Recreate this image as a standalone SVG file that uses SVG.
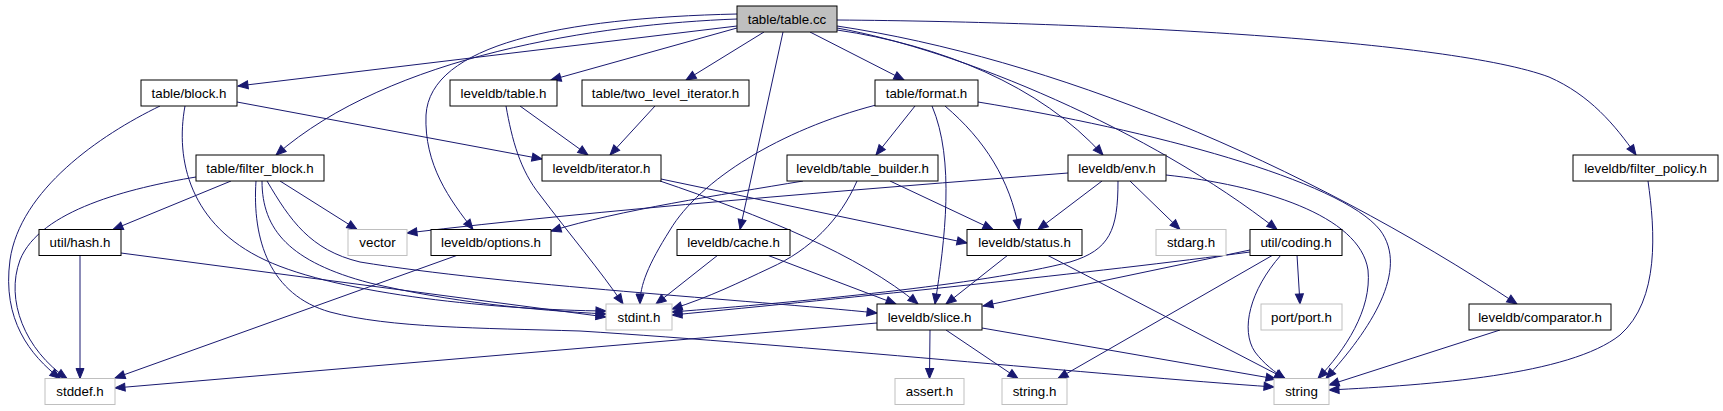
<svg xmlns="http://www.w3.org/2000/svg" width="1723" height="411" viewBox="0 0 1723 411">
<style>
.n rect{fill:#ffffff;stroke:#000000;stroke-width:1}
.g rect{fill:#ffffff;stroke:#bfbfbf;stroke-width:1}
.m rect{fill:#bfbfbf;stroke:#000000;stroke-width:1}
text{font-family:"Liberation Sans",Arial,Helvetica,sans-serif;font-size:13.33px;fill:#000000;text-anchor:middle}
#edges path{fill:none;stroke:#191970;stroke-width:1;marker-end:url(#a)}
</style>
<defs>
<marker id="a" markerUnits="userSpaceOnUse" viewBox="0 0 10 8" markerWidth="10" markerHeight="8" refX="10" refY="4" orient="auto" overflow="visible">
<path d="M0,0 L10,4 L0,8 z" fill="#191970" stroke="#191970" stroke-width="1"/>
</marker>
</defs>
<rect width="1723" height="411" fill="#ffffff"/>
<g id="edges">
<path d="M737,26 L238,86"/>
<path d="M737,19 C600,24 390,55 276,155"/>
<path d="M737,14 C560,18 430,45 426,115 C424,165 450,200 473,229.5"/>
<path d="M737,28 L551,80"/>
<path d="M764,32 L686,80"/>
<path d="M783,32 L740,229.5"/>
<path d="M810,32 L904,80"/>
<path d="M837,30 C940,45 1040,85 1103,155"/>
<path d="M837,28 C960,50 1150,130 1277,229.5"/>
<path d="M837,26 C1050,58 1300,160 1517,304"/>
<path d="M837,20 C1100,22 1450,40 1549,77 C1590,95 1615,125 1636,155"/>
<path d="M160,106 C100,135 20,190 10,260 C2,320 30,355 60,378.5"/>
<path d="M185,106 C175,160 190,225 265,260 C340,295 500,310 606,311"/>
<path d="M237,102 L542,159"/>
<path d="M520,106 L588,155"/>
<path d="M506,106 C512,140 520,170 540,195 C570,235 600,270 623,304"/>
<path d="M655,106 L610,155"/>
<path d="M661,179 L967,243"/>
<path d="M660,181 C760,215 860,255 918,304"/>
<path d="M915,106 L876,155"/>
<path d="M876,105 C780,130 700,180 670,230 C648,265 640,285 640,304"/>
<path d="M932,106 C955,160 945,240 935,304"/>
<path d="M945,106 C985,140 1010,180 1019,229.5"/>
<path d="M978,102 C1150,130 1340,180 1380,230 C1410,270 1370,330 1326,378.5"/>
<path d="M803,181 C720,195 620,210 551,231"/>
<path d="M857,181 C840,220 810,250 770,268 C740,282 710,297 672,309"/>
<path d="M890,181 L993,229.5"/>
<path d="M1068,173 C850,190 600,210 407,233"/>
<path d="M1102,181 L1038,229.5"/>
<path d="M1130,181 L1180,229.5"/>
<path d="M1118,181 C1118,230 1110,250 1070,262 C980,285 800,302 672,312"/>
<path d="M1166,175 C1260,185 1360,215 1368,270 C1372,310 1345,350 1318,378.5"/>
<path d="M1648,181 C1655,230 1660,300 1620,335 C1570,375 1430,385 1329,390"/>
<path d="M1500,330 L1329,385"/>
<path d="M1008,255 L946,304"/>
<path d="M1047,255 L1285,378.5"/>
<path d="M718,255 L656,304"/>
<path d="M767,255 L896,304"/>
<path d="M196,177 C130,188 40,210 20,260 C5,300 25,350 67,378.5"/>
<path d="M231,181 L113,229.5"/>
<path d="M280,181 L357,229.5"/>
<path d="M262,181 C262,230 290,262 370,283 C450,302 530,310 606,314"/>
<path d="M267,181 C290,220 310,250 360,262 C500,285 750,300 877,313"/>
<path d="M256,181 C252,240 270,295 330,312 C390,328 480,328 580,331 C800,345 1100,375 1274,387"/>
<path d="M80,255 L80,378.5"/>
<path d="M121,253 L606,317"/>
<path d="M458,255 L115,378"/>
<path d="M930,330 L929.5,378.5"/>
<path d="M946,330 L1018,378.5"/>
<path d="M982,328 L1276,379"/>
<path d="M877,323 L115,388"/>
<path d="M1297,255 L1300,304"/>
<path d="M1273,255 L1058,378.5"/>
<path d="M1281,255 C1250,290 1240,330 1255,352 C1264,364 1275,372 1285,379"/>
<path d="M1250,252 C1100,272 850,298 672,315"/>
<path d="M1250,250 L983,306"/>
</g>
<g id="node-table-cc" class="m"><rect x="737" y="6" width="100" height="26"/><text x="787" y="23.5">table/table.cc</text></g>
<g id="node-table-block" class="n"><rect x="141" y="80" width="96" height="26"/><text x="189" y="97.5">table/block.h</text></g>
<g id="node-leveldb-table" class="n"><rect x="450" y="80" width="107" height="26"/><text x="503.5" y="97.5">leveldb/table.h</text></g>
<g id="node-two-level" class="n"><rect x="582" y="80" width="167" height="26"/><text x="665.5" y="97.5">table/two_level_iterator.h</text></g>
<g id="node-format" class="n"><rect x="875" y="80" width="103" height="26"/><text x="926.5" y="97.5">table/format.h</text></g>
<g id="node-filter-block" class="n"><rect x="196" y="155" width="128" height="26"/><text x="260" y="172.5">table/filter_block.h</text></g>
<g id="node-iterator" class="n"><rect x="542" y="155" width="119" height="26"/><text x="601.5" y="172.5">leveldb/iterator.h</text></g>
<g id="node-table-builder" class="n"><rect x="787" y="155" width="151" height="26"/><text x="862.5" y="172.5">leveldb/table_builder.h</text></g>
<g id="node-env" class="n"><rect x="1068" y="155" width="98" height="26"/><text x="1117" y="172.5">leveldb/env.h</text></g>
<g id="node-filter-policy" class="n"><rect x="1573" y="155" width="145" height="26"/><text x="1645.5" y="172.5">leveldb/filter_policy.h</text></g>
<g id="node-hash" class="n"><rect x="39" y="229.5" width="82" height="26"/><text x="80" y="247">util/hash.h</text></g>
<g id="node-vector" class="g"><rect x="348" y="229.5" width="59" height="26"/><text x="377.5" y="247">vector</text></g>
<g id="node-options" class="n"><rect x="431" y="229.5" width="120" height="26"/><text x="491" y="247">leveldb/options.h</text></g>
<g id="node-cache" class="n"><rect x="677" y="229.5" width="113" height="26"/><text x="733.5" y="247">leveldb/cache.h</text></g>
<g id="node-status" class="n"><rect x="967" y="229.5" width="115" height="26"/><text x="1024.5" y="247">leveldb/status.h</text></g>
<g id="node-stdarg" class="g"><rect x="1156" y="229.5" width="70" height="26"/><text x="1191" y="247">stdarg.h</text></g>
<g id="node-coding" class="n"><rect x="1250" y="229.5" width="92" height="26"/><text x="1296" y="247">util/coding.h</text></g>
<g id="node-stdint" class="g"><rect x="606" y="304" width="66" height="26"/><text x="639" y="321.5">stdint.h</text></g>
<g id="node-slice" class="n"><rect x="877" y="304" width="105" height="26"/><text x="929.5" y="321.5">leveldb/slice.h</text></g>
<g id="node-port" class="g"><rect x="1261" y="304" width="81" height="26"/><text x="1301.5" y="321.5">port/port.h</text></g>
<g id="node-comparator" class="n"><rect x="1469" y="304" width="142" height="26"/><text x="1540" y="321.5">leveldb/comparator.h</text></g>
<g id="node-stddef" class="g"><rect x="45" y="378.5" width="70" height="26"/><text x="80" y="396">stddef.h</text></g>
<g id="node-assert" class="g"><rect x="895" y="378.5" width="69" height="26"/><text x="929.5" y="396">assert.h</text></g>
<g id="node-string-h" class="g"><rect x="1002" y="378.5" width="65" height="26"/><text x="1034.5" y="396">string.h</text></g>
<g id="node-string" class="g"><rect x="1274" y="378.5" width="55" height="26"/><text x="1301.5" y="396">string</text></g>
</svg>
